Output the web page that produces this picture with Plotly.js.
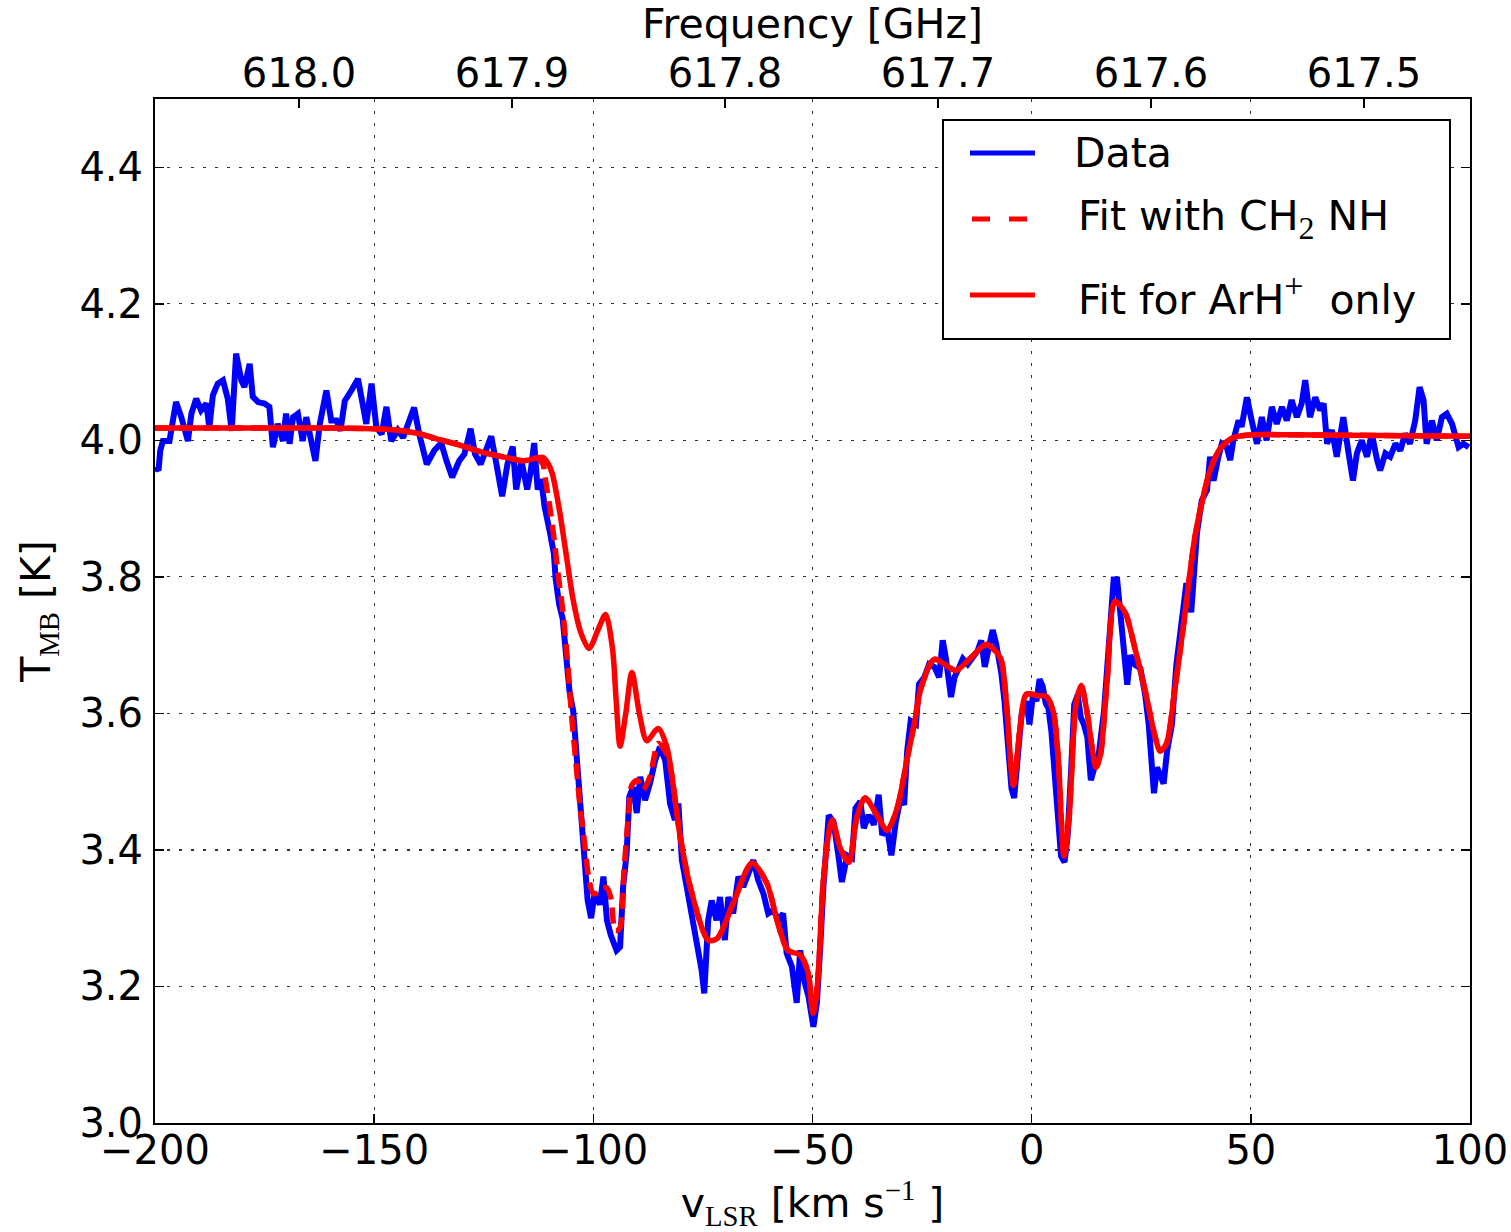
<!DOCTYPE html>
<html>
<head>
<meta charset="utf-8">
<script src="https://cdn.plot.ly/plotly-3.0.1.min.js"></script>
<style>html,body{margin:0;padding:0;background:#fff;}#chart{width:1511px;height:1232px;}</style>
</head>
<body>
<div id="chart"></div>
<script>
// ---- Data: observed spectrum (v_LSR in km/s, T_MB in K) ----
const velocity = [
-200.0,-199.2,-198.8,-198.2,-196.7,-195.2,-194.0,-192.5,-191.7,-190.6,
-189.5,-188.3,-187.6,-186.8,-185.7,-184.5,-183.4,-182.5,-181.5,-180.3,
-179.6,-178.4,-177.7,-176.5,-175.0,-173.9,-173.1,-172.0,-170.8,-170.1,
-169.3,-168.5,-167.4,-166.3,-165.5,-164.4,-163.4,-162.4,-160.9,-159.8,
-158.6,-157.7,-156.7,-155.2,-153.7,-152.5,-151.8,-150.6,-149.5,-148.3,
-147.2,-146.1,-144.6,-143.4,-142.1,-140.9,-139.6,-138.0,-136.3,-134.7,
-133.5,-132.2,-130.6,-129.4,-128.0,-127.0,-125.7,-124.5,-123.3,-122.1,
-120.8,-119.6,-118.4,-117.6,-116.4,-115.1,-114.3,-113.5,-112.7,-111.9,
-111.1,-109.9,-109.0,-108.6,-107.8,-107.0,-106.2,-105.4,-104.6,-103.7,
-102.9,-102.1,-101.3,-100.5,-99.7,-98.5,-97.7,-96.9,-96.0,-94.7,
-93.9,-93.2,-92.4,-91.8,-90.9,-90.1,-89.3,-88.2,-87.1,-85.9,
-84.8,-83.6,-82.5,-81.4,-80.6,-79.8,-78.7,-77.6,-76.4,-75.3,
-74.7,-73.8,-73.0,-71.9,-71.1,-70.0,-69.2,-68.1,-66.9,-65.8,
-64.6,-63.5,-62.4,-61.2,-60.1,-58.9,-57.8,-56.7,-55.9,-54.7,
-53.6,-52.8,-51.9,-50.9,-49.8,-49.0,-48.3,-47.5,-46.3,-45.2,
-44.1,-43.3,-42.1,-41.0,-40.2,-39.1,-38.3,-37.2,-36.0,-34.9,
-34.1,-33.0,-32.0,-31.0,-29.9,-29.1,-28.4,-27.6,-26.4,-25.7,
-24.5,-23.4,-22.2,-21.1,-20.3,-19.6,-18.4,-17.6,-16.5,-15.7,
-14.6,-13.4,-12.3,-11.5,-10.7,-9.6,-8.9,-8.1,-6.9,-6.2,
-5.4,-4.6,-4.0,-3.2,-2.3,-1.2,-0.5,0.3,1.1,1.8,
2.5,3.2,3.8,4.5,5.2,6.0,6.7,7.5,8.2,9.0,
9.7,10.5,11.2,11.9,12.7,13.5,14.2,15.4,16.5,17.2,
18.0,18.7,19.5,20.2,21.0,21.8,22.5,23.6,24.8,25.9,
26.7,27.4,27.9,28.6,29.3,30.1,30.9,32.0,33.0,34.1,
35.3,36.4,37.1,37.7,38.8,40.0,40.7,41.5,42.6,43.4,
44.5,45.3,46.0,47.2,47.9,49.1,50.2,51.4,52.5,53.6,
54.8,55.9,57.1,58.2,59.3,60.5,61.6,62.4,63.5,64.7,
65.8,66.6,67.4,68.5,69.6,71.1,72.3,73.3,74.2,75.3,
76.5,77.6,78.8,79.5,80.7,81.8,83.0,84.1,85.2,86.3,
87.5,88.5,89.4,90.1,91.3,92.4,93.6,94.7,95.9,96.6,
97.4,98.5,99.7
];
const tmb = [
3.961,3.956,3.985,3.999,3.999,4.056,4.034,3.999,4.039,4.061,
4.044,4.054,4.019,4.066,4.083,4.088,4.061,4.014,4.127,4.088,
4.078,4.112,4.064,4.056,4.054,4.049,3.990,4.024,3.999,4.039,
3.995,4.034,4.039,3.999,4.034,3.999,3.970,4.024,4.073,4.029,
4.029,4.014,4.058,4.073,4.090,4.049,4.024,4.083,4.019,4.009,
4.049,3.999,4.015,4.004,4.028,4.048,4.006,3.965,3.985,3.996,
3.970,3.946,3.970,3.980,4.017,3.980,3.965,3.985,4.006,3.965,
3.918,3.965,3.991,3.928,3.970,3.928,3.954,3.996,3.928,3.943,
3.902,3.865,3.834,3.797,3.760,3.739,3.693,3.630,3.604,3.536,
3.457,3.394,3.326,3.300,3.337,3.320,3.361,3.297,3.275,3.253,
3.258,3.346,3.395,3.478,3.492,3.454,3.507,3.473,3.497,3.531,
3.551,3.531,3.468,3.444,3.468,3.385,3.346,3.307,3.263,3.224,
3.190,3.297,3.326,3.297,3.331,3.268,3.331,3.307,3.361,3.346,
3.366,3.385,3.356,3.336,3.307,3.312,3.297,3.307,3.249,3.229,
3.176,3.253,3.209,3.185,3.141,3.176,3.250,3.348,3.451,3.441,
3.392,3.353,3.392,3.388,3.461,3.471,3.432,3.451,3.437,3.481,
3.422,3.432,3.392,3.441,3.476,3.466,3.545,3.589,3.584,3.643,
3.653,3.672,3.668,3.653,3.707,3.682,3.624,3.653,3.668,3.680,
3.672,3.682,3.692,3.707,3.668,3.702,3.722,3.702,3.658,3.618,
3.555,3.490,3.476,3.545,3.599,3.618,3.584,3.627,3.618,3.650,
3.640,3.615,3.608,3.574,3.521,3.444,3.391,3.382,3.420,3.517,
3.613,3.627,3.594,3.584,3.565,3.502,3.517,3.545,3.603,3.661,
3.734,3.796,3.796,3.748,3.709,3.642,3.685,3.671,3.666,3.627,
3.584,3.526,3.483,3.521,3.512,3.497,3.545,3.584,3.671,3.734,
3.791,3.748,3.824,3.864,3.912,3.927,3.976,3.941,3.976,3.995,
3.990,3.971,4.000,4.029,4.020,4.063,4.029,3.995,4.034,4.000,
4.049,4.024,4.049,4.029,4.059,4.034,4.054,4.088,4.034,4.063,
4.044,4.054,3.995,4.015,3.976,4.034,3.981,3.941,3.981,4.000,
3.976,4.010,3.971,3.956,3.981,3.976,3.995,3.985,4.010,3.995,
4.029,4.078,4.059,3.995,4.029,4.000,4.034,4.039,4.024,4.010,
3.990,3.995,3.990
];

// ---- Fit for ArH+ only (solid) ----
const fitArhV = [
-200,-180,-160,-150,-145,-140,-135,-130,-125,-120,
-116,-113,-111.5,-110.5,-109.4,-107.8,-106.2,-104.6,-102.9,-101,
-98.9,-97.2,-95.6,-94.8,-93.9,-92.6,-91.2,-89.5,-87.8,-85.2,
-83.2,-80.2,-77.9,-73.8,-71.8,-68.1,-63.8,-60.4,-58.1,-55.6,
-52.8,-51.0,-49.9,-48.9,-47.6,-46.4,-45.5,-43.7,-41.7,-39.9,
-38.0,-35.3,-33.0,-30.7,-28.4,-26.8,-25.2,-22.2,-17.3,-13.8,
-10.4,-7.2,-5.8,-4.2,-2.6,-1.2,1.5,3.3,4.9,6.0,
7.4,8.5,10.1,11.3,12.6,14.7,15.7,17.2,19.0,21.3,
23.6,25.9,28.2,29.3,30.7,32.7,34.9,37.1,38.8,40.7,
43.0,46.0,50,60,80,100
];
const fitArhT = [
4.018,4.018,4.018,4.017,4.015,4.010,4.001,3.992,3.982,3.975,
3.970,3.974,3.975,3.968,3.952,3.900,3.833,3.766,3.719,3.695,
3.723,3.745,3.693,3.620,3.552,3.600,3.660,3.600,3.560,3.578,
3.550,3.420,3.346,3.268,3.270,3.322,3.381,3.351,3.297,3.253,
3.246,3.220,3.161,3.200,3.348,3.420,3.444,3.403,3.382,3.447,
3.476,3.451,3.429,3.461,3.534,3.584,3.638,3.679,3.663,3.682,
3.701,3.682,3.618,3.495,3.580,3.628,3.626,3.625,3.603,3.540,
3.391,3.444,3.613,3.641,3.603,3.521,3.540,3.647,3.764,3.748,
3.694,3.633,3.565,3.545,3.555,3.637,3.742,3.853,3.908,3.956,
3.988,4.004,4.008,4.008,4.007,4.006
];

// ---- Fit with CH2NH (dashed): part that differs from ArH+ only fit ----
const fitCh2HeadV = [
-200,-180,-160,-150,-145,-140,-135,-130,-125,-120,
-116,-113,-111.5,-111,-110,-109,-108,-107,-106,-105,
-104,-103,-102,-101,-100,-99,-98,-97,-96,-95,
-94,-93,-92,-91.2,-90,-88.7,-87.1,-85.2,-83.2
];
const fitCh2HeadT = [
4.018,4.018,4.018,4.017,4.015,4.010,4.001,3.992,3.982,3.975,
3.970,3.974,3.965,3.945,3.905,3.858,3.802,3.752,3.685,3.600,
3.530,3.462,3.410,3.357,3.336,3.337,3.343,3.345,3.330,3.282,
3.285,3.370,3.450,3.495,3.502,3.488,3.507,3.556,3.540
];

// ---- Axis ticks ----
const freqTicks = [618.0, 617.9, 617.8, 617.7, 617.6, 617.5];
const freqLabels = ['618.0', '617.9', '617.8', '617.7', '617.6', '617.5'];
const velTicks = [-200, -150, -100, -50, 0, 50, 100];
const tTicks = [3.0, 3.2, 3.4, 3.6, 3.8, 4.0, 4.2, 4.4];
const tLabels = tTicks.map(v => v.toFixed(1));

// Build dashed curve: head + tail shared with ArH+ fit
const fitCh2V = fitCh2HeadV.concat(fitArhV.filter(v => v > -81));
const fitCh2T = fitCh2HeadT.concat(fitArhT.filter((t, i) => fitArhV[i] > -81));

const FONT = 'DejaVu Sans, Verdana, sans-serif';
const TICK = 40;
const LAB = 41;

const traces = [
  { x: velocity, y: tmb, type: 'scatter', mode: 'lines', name: 'Data',
    line: { color: '#0000ff', width: 6 }, hoverinfo: 'skip', showlegend: false },
  { x: fitCh2V, y: fitCh2T, type: 'scatter', mode: 'lines', name: 'Fit with CH2NH',
    line: { color: '#ff0000', width: 5.5, dash: '16px,8px', shape: 'spline', smoothing: 0.8 },
    hoverinfo: 'skip', showlegend: false },
  { x: fitArhV, y: fitArhT, type: 'scatter', mode: 'lines', name: 'Fit for ArH+ only',
    line: { color: '#ff0000', width: 5.5, shape: 'spline', smoothing: 0.8 },
    hoverinfo: 'skip', showlegend: false },
  { x: freqTicks, y: freqTicks.map(() => null), xaxis: 'x2', yaxis: 'y', type: 'scatter',
    mode: 'lines', hoverinfo: 'skip', showlegend: false }
];

// paper coords helper for legend placement (plot area 155..1470 x 99..1123)
const px = p => (p - 155) / 1315;
const py = p => (1123 - p) / 1024;

const layout = {
  width: 1511, height: 1232,
  margin: { l: 155, r: 41, t: 99, b: 109, pad: 0 },
  paper_bgcolor: '#ffffff', plot_bgcolor: '#ffffff',
  font: { family: FONT, size: TICK, color: '#000' },
  showlegend: false,
  xaxis: {
    range: [-200, 100], tickvals: velTicks, ticks: 'inside', ticklen: 9, tickwidth: 1.5,
    tickcolor: '#000', showline: true, linecolor: '#000', linewidth: 2,
    showgrid: true, gridcolor: '#333', gridwidth: 1.2, griddash: '3px,9px',
    zeroline: false, tickfont: { family: FONT, size: TICK, color: '#000' },
    ticklabelstandoff: -9,
    title: { text: 'v<sub><span style="font-family:Liberation Serif">LSR</span></sub> [km s<sup><span style="font-family:Liberation Serif">−1</span></sup> ]',
      font: { family: FONT, size: LAB, color: '#000' }, standoff: 20 }
  },
  xaxis2: {
    overlaying: 'x', side: 'top', anchor: 'y', range: [618.0676, 617.4502],
    tickvals: freqTicks, ticktext: freqLabels, ticks: 'inside', ticklen: 9, tickwidth: 1.5,
    tickcolor: '#000', showline: true, linecolor: '#000', linewidth: 2,
    showgrid: false, zeroline: false, tickfont: { family: FONT, size: TICK, color: '#000' },
    ticklabelstandoff: -6,
    title: { text: 'Frequency [GHz]', font: { family: FONT, size: LAB, color: '#000' }, standoff: 0 }
  },
  yaxis: {
    range: [3.0, 4.5], tickvals: tTicks, ticktext: tLabels, ticks: 'inside', ticklen: 9, tickwidth: 1.5,
    tickcolor: '#000', showline: true, linecolor: '#000', linewidth: 2, mirror: 'ticks',
    showgrid: true, gridcolor: '#333', gridwidth: 1.2, griddash: '3px,9px',
    zeroline: false, tickfont: { family: FONT, size: TICK, color: '#000' },
    ticklabelstandoff: 2,
    title: { text: 'T<sub><span style="font-family:Liberation Serif">MB</span></sub> [K]',
      font: { family: FONT, size: LAB, color: '#000' }, standoff: 16 }
  },
  shapes: [
    { type: 'rect', xref: 'paper', yref: 'paper', x0: px(943), x1: px(1450), y0: py(339), y1: py(120),
      line: { color: '#000', width: 2 }, fillcolor: '#fff', layer: 'above' },
    { type: 'line', xref: 'paper', yref: 'paper', x0: px(970), x1: px(1035), y0: py(153), y1: py(153),
      line: { color: '#0000ff', width: 5 }, layer: 'above' },
    { type: 'line', xref: 'paper', yref: 'paper', x0: px(972), x1: px(1027), y0: py(219), y1: py(219),
      line: { color: '#ff0000', width: 5, dash: '18px,19px' }, layer: 'above' },
    { type: 'line', xref: 'paper', yref: 'paper', x0: px(970), x1: px(1035), y0: py(295), y1: py(295),
      line: { color: '#ff0000', width: 5 }, layer: 'above' }
  ],
  annotations: [
    { xref: 'paper', yref: 'paper', x: px(1072), y: py(153), xanchor: 'left', yanchor: 'middle',
      text: 'Data', showarrow: false, font: { family: FONT, size: LAB, color: '#000' } },
    { xref: 'paper', yref: 'paper', x: px(1076), y: py(219), xanchor: 'left', yanchor: 'middle',
      text: 'Fit with CH<sub><span style="font-family:Liberation Serif;font-size:32px">2</span></sub> NH', showarrow: false,
      font: { family: FONT, size: LAB, color: '#000' } },
    { xref: 'paper', yref: 'paper', x: px(1076), y: py(295), xanchor: 'left', yanchor: 'middle',
      text: 'Fit for ArH<sup><span style="font-family:Liberation Serif;font-size:34px">+</span></sup>  only', showarrow: false,
      font: { family: FONT, size: LAB, color: '#000' } }
  ]
};

Plotly.newPlot('chart', traces, layout, { staticPlot: true, displayModeBar: false });
</script>
</body>
</html>
